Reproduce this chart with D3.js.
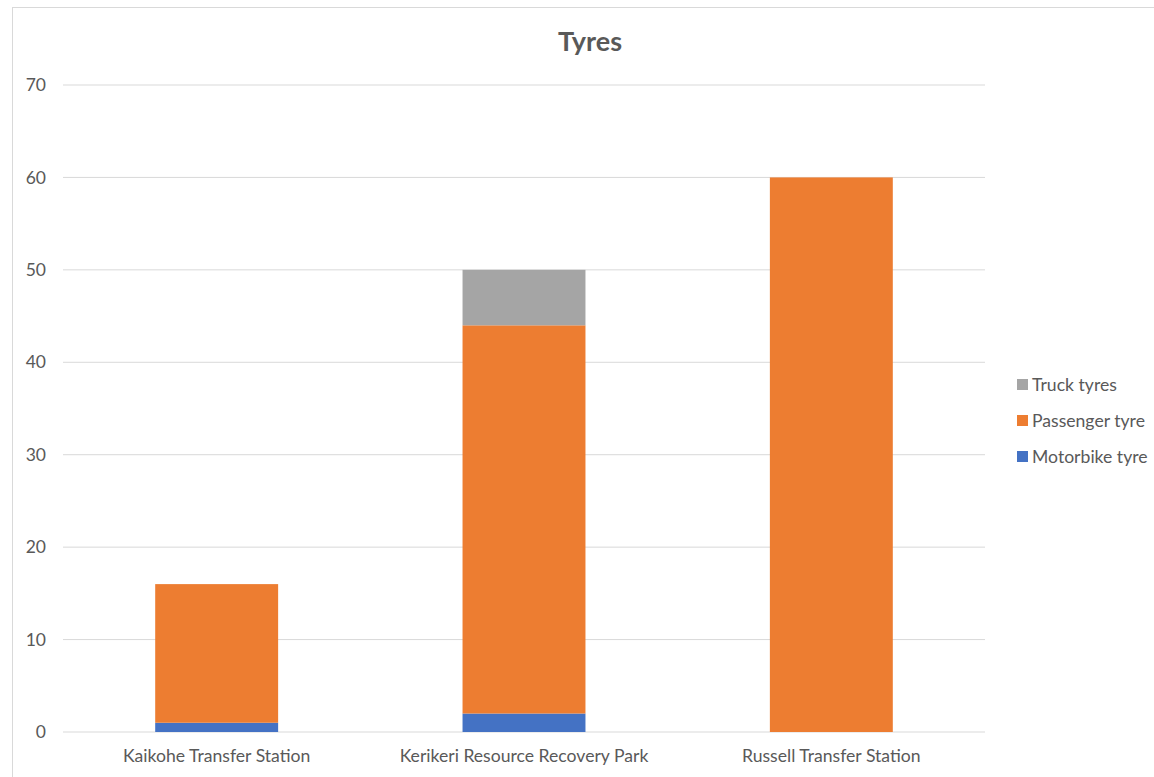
<!DOCTYPE html>
<html><head><meta charset="utf-8">
<script src="https://cdn.jsdelivr.net/npm/d3@7"></script>
<style>body{margin:0;background:#fff;} text{font-family:Lato,"Open Sans",sans-serif;}</style>
</head><body>
<svg id="c" width="1154" height="777"></svg>
<script>
const categories = ["Kaikohe Transfer Station","Kerikeri Resource Recovery Park","Russell Transfer Station"];
const motorbike = [1, 2, 0];
const passenger = [15, 42, 60];
const truck = [0, 6, 0];
const yTicks = [0,10,20,30,40,50,60,70];
const seriesNames = ["Motorbike tyre","Passenger tyre","Truck tyres"];
const colors = ["#4472C4","#ED7D31","#A5A5A5"];

const svg = d3.select("#c");
svg.append("rect").attr("x",12.5).attr("y",7.5).attr("width",1160).attr("height",800)
  .attr("fill","#fff").attr("stroke","#d9d9d9");

const L=63, R=985, T=85, B=732;
const x = d3.scaleBand().domain(categories).range([L,R]).padding(0);
const y = d3.scaleLinear().domain([0,70]).range([B,T]);

svg.append("g").selectAll("line").data(yTicks).join("line")
  .attr("x1",L).attr("x2",R).attr("y1",d=>y(d)).attr("y2",d=>y(d))
  .attr("stroke","#d9d9d9").attr("stroke-width",1);

svg.append("g").selectAll("text").data(yTicks).join("text")
  .attr("x",46).attr("y",d=>y(d)).attr("dy","0.35em").attr("text-anchor","end")
  .attr("font-size",17.5).attr("fill","#595959").text(d=>d);

const data = categories.map((c,i)=>({cat:c, m:motorbike[i], p:passenger[i], t:truck[i]}));
const stack = d3.stack().keys(["m","p","t"])(data);
const bw = x.bandwidth()*0.4;
svg.append("g").selectAll("g").data(stack).join("g").attr("fill",(d,i)=>colors[i])
  .selectAll("rect").data(d=>d).join("rect")
  .attr("x",d=>x(d.data.cat)+x.bandwidth()/2-bw/2).attr("width",bw)
  .attr("y",d=>y(d[1])).attr("height",d=>y(d[0])-y(d[1]));

svg.append("g").selectAll("text").data(categories).join("text")
  .attr("x",d=>x(d)+x.bandwidth()/2).attr("y",762).attr("text-anchor","middle")
  .attr("font-size",17.6).attr("fill","#595959").text(d=>d);

svg.append("text").attr("x",590).attr("y",51).attr("text-anchor","middle")
  .attr("font-size",27).attr("font-weight","bold").attr("fill","#595959").text("Tyres");

const leg = [2,1,0];
const lg = svg.append("g").selectAll("g").data(leg).join("g")
  .attr("transform",(d,i)=>`translate(1017,${385+i*36})`);
lg.append("rect").attr("x",0).attr("y",-6).attr("width",11).attr("height",11).attr("fill",d=>colors[d]);
lg.append("text").attr("x",15).attr("y",0).attr("dy","0.35em").attr("font-size",17.6)
  .attr("fill","#595959").text(d=>seriesNames[d]);
</script>
</body></html>
